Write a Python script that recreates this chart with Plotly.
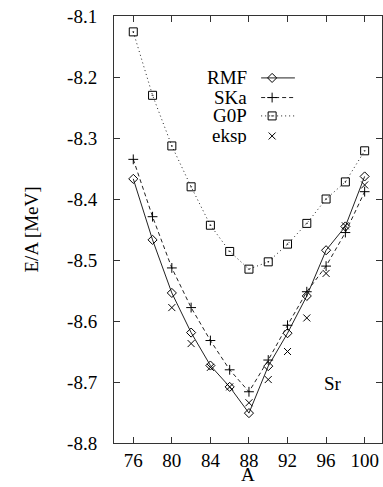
import plotly.graph_objects as go

A_model = [76, 78, 80, 82, 84, 86, 88, 90, 92, 94, 96, 98, 100]
rmf = [-8.367, -8.467, -8.554, -8.619, -8.673, -8.708, -8.751, -8.674, -8.620, -8.559, -8.484, -8.445, -8.363]
ska = [-8.335, -8.429, -8.513, -8.578, -8.632, -8.680, -8.716, -8.664, -8.607, -8.552, -8.510, -8.455, -8.388]
g0p = [-8.126, -8.230, -8.313, -8.380, -8.443, -8.486, -8.515, -8.503, -8.474, -8.440, -8.400, -8.372, -8.321]
A_exp = [80, 82, 84, 86, 88, 90, 92, 94, 96, 98, 100]
eksp = [-8.578, -8.637, -8.676, -8.708, -8.734, -8.696, -8.650, -8.595, -8.522, -8.444, -8.377]

xtick_vals = [76, 80, 84, 88, 92, 96, 100]
xtick_text = ["76", "80", "84", "88", "92", "96", "100"]
ytick_vals = [-8.1, -8.2, -8.3, -8.4, -8.5, -8.6, -8.7, -8.8]
ytick_text = ["-8.1", "-8.2", "-8.3", "-8.4", "-8.5", "-8.6", "-8.7", "-8.8"]

legend_names = ["RMF", "SKa", "G0P", "eksp"]

FONT = "'Liberation Serif', 'Times New Roman', serif"
FS = 19
LC = "#222222"

m_rmf = dict(symbol="diamond-open", size=7, color="black", line=dict(width=1))
m_ska = dict(symbol="cross-thin", size=7, color="black", line=dict(width=1, color="black"))
m_g0p = dict(symbol="square-open-dot", size=8, color="black", line=dict(width=1))
m_exp = dict(symbol="x-thin", size=7, color="black", line=dict(width=1, color="black"))
l_rmf = dict(color=LC, width=1)
l_ska = dict(color=LC, width=1, dash="4px,3px")
l_g0p = dict(color=LC, width=1, dash="1px,3px")

fig = go.Figure()

fig.add_trace(go.Scatter(x=A_model, y=rmf, mode="lines+markers", name="RMF", line=l_rmf, marker=m_rmf))
fig.add_trace(go.Scatter(x=A_model, y=ska, mode="lines+markers", name="SKa", line=l_ska, marker=m_ska))
fig.add_trace(go.Scatter(x=A_model, y=g0p, mode="lines+markers", name="G0P", line=l_g0p, marker=m_g0p))
fig.add_trace(go.Scatter(x=A_exp, y=eksp, mode="markers", name="eksp", marker=m_exp))

# manual legend (gnuplot style: text right-aligned, sample to the right)
leg_y = [0.855, 0.809, 0.766, 0.719]
styles = [(l_rmf, m_rmf), (l_ska, m_ska), (l_g0p, m_g0p), (None, m_exp)]
for name, yy, (ln, mk) in zip(legend_names, leg_y, styles):
    if ln is not None:
        fig.add_trace(go.Scatter(x=[0.549, 0.675], y=[yy, yy], mode="lines", line=ln,
                                 xaxis="x2", yaxis="y2", showlegend=False, hoverinfo="skip"))
    fig.add_trace(go.Scatter(x=[0.590], y=[yy], mode="markers", marker=mk,
                             xaxis="x2", yaxis="y2", showlegend=False, hoverinfo="skip"))
    fig.add_annotation(x=0.5, y=yy, xref="x2", yref="y2", text=name, showarrow=False,
                       xanchor="right", yanchor="middle", borderpad=0, height=17,
                       font=dict(family=FONT, size=FS, color="black"))

fig.add_annotation(x=0.817, y=0.1405, xref="paper", yref="paper", text="Sr", showarrow=False,
                   xanchor="center", yanchor="middle", font=dict(family=FONT, size=FS, color="black"))
fig.add_annotation(x=-0.306, y=0.5, xref="paper", yref="paper", text="E/A [MeV]", showarrow=False,
                   textangle=-90, xanchor="center", yanchor="middle", font=dict(family=FONT, size=FS, color="black"))
fig.add_annotation(x=0.5, y=-0.1, xref="paper", yref="paper", text="A", showarrow=False, borderpad=0,
                   height=17, valign="bottom",
                   xanchor="center", yanchor="bottom", font=dict(family=FONT, size=FS, color="black"))

axis_common = dict(showgrid=False, zeroline=False, showline=True, linecolor="#333333", linewidth=1,
                   mirror="allticks", ticks="inside", ticklen=6, tickcolor="#333333", tickwidth=1,
                   tickfont=dict(family=FONT, size=FS, color="black"))

fig.update_layout(
    width=383, height=487,
    margin=dict(l=114, r=1, t=16, b=44),
    paper_bgcolor="white", plot_bgcolor="white",
    showlegend=False,
    xaxis=dict(range=[74, 101.8], tickmode="array", tickvals=xtick_vals, ticktext=xtick_text,
               ticklabelstandoff=0, **axis_common),
    yaxis=dict(range=[-8.8, -8.1], tickmode="array", tickvals=ytick_vals, ticktext=ytick_text,
               ticklabelstandoff=12, **axis_common),
    xaxis2=dict(range=[0, 1], overlaying="x", visible=False),
    yaxis2=dict(range=[0, 1], overlaying="y", visible=False),
)

fig.write_html("out.html")
